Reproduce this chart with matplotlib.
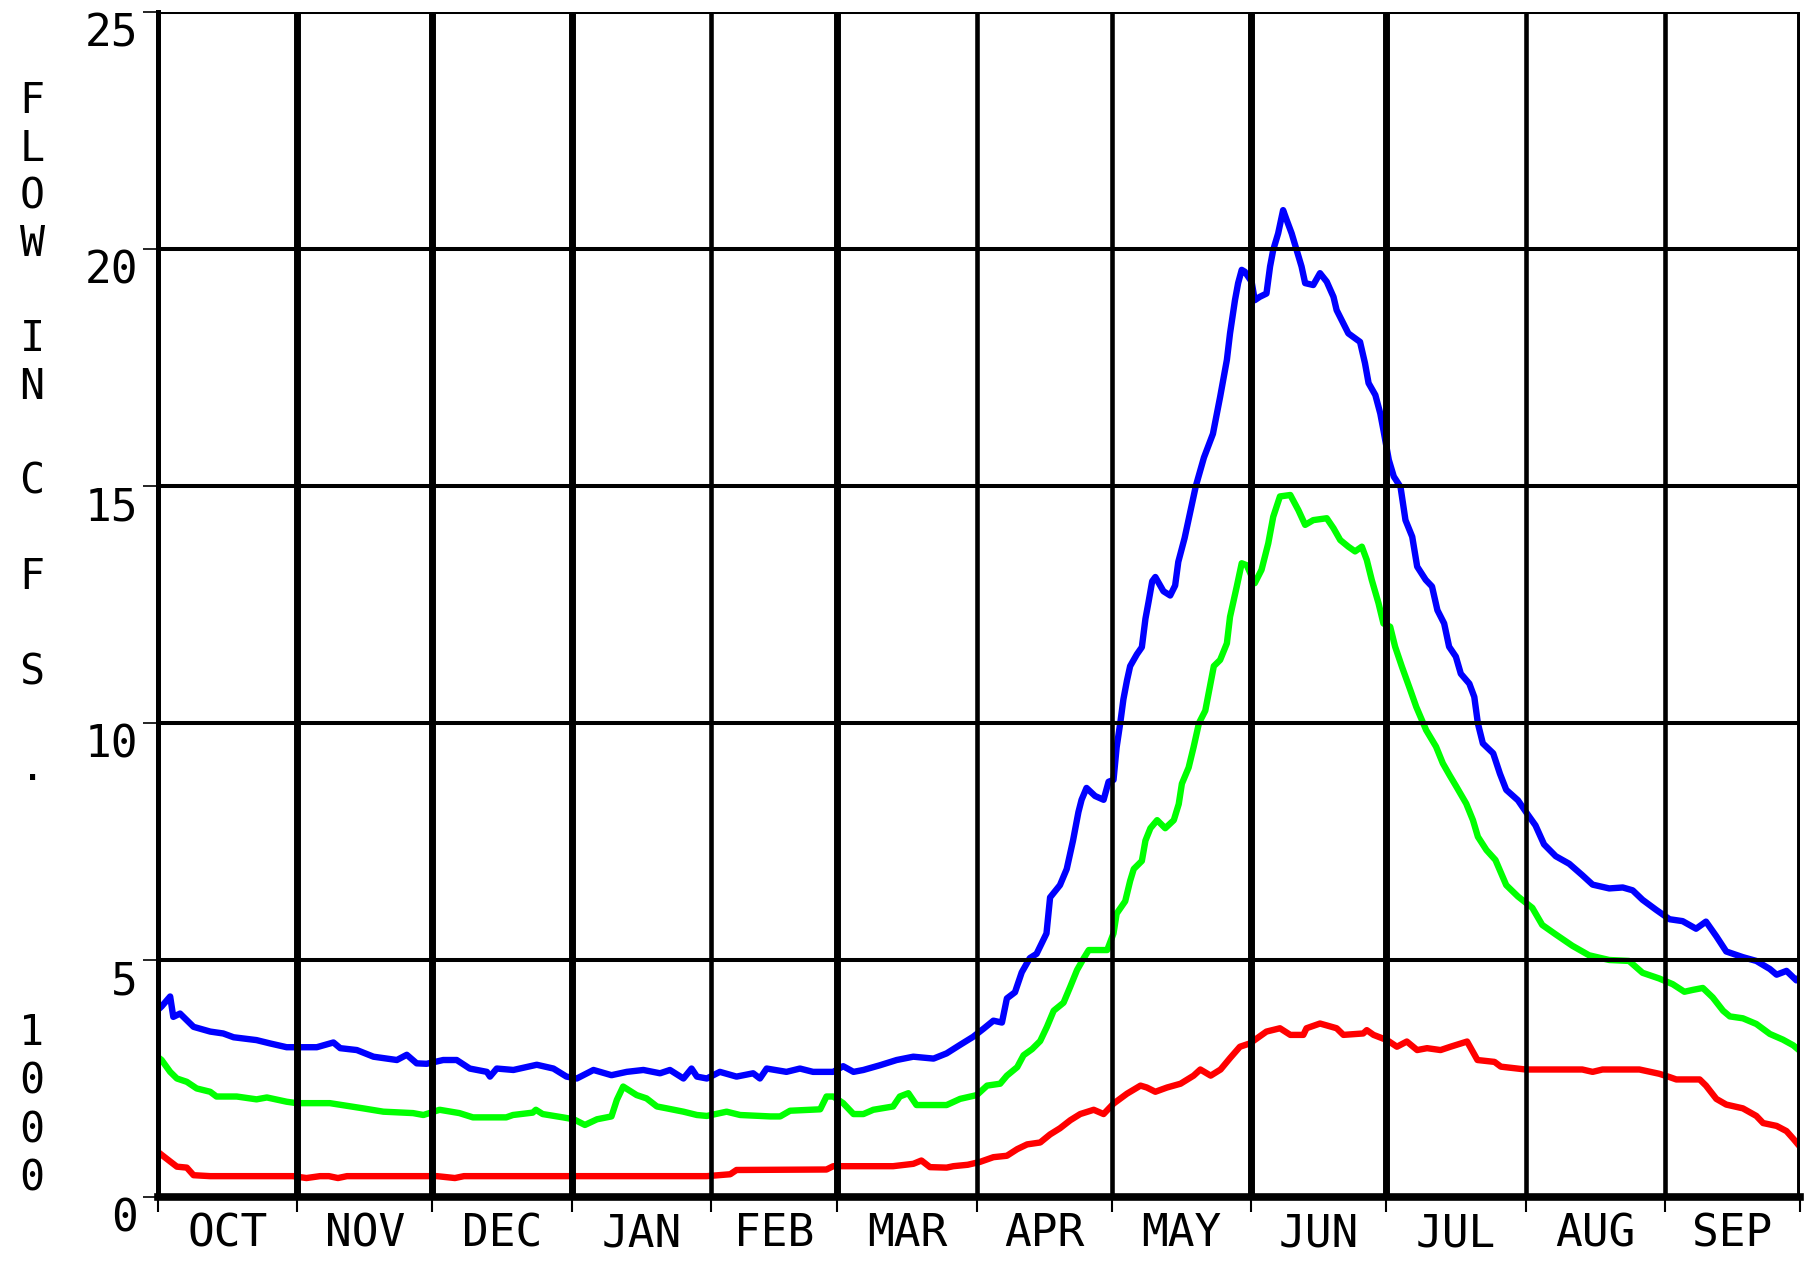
import matplotlib

matplotlib.use("Agg")

import matplotlib.pyplot as plt

# day of water year (Oct 1 = 0) and flow in 1000 cfs
MAX_DAYS = [
    0.0, 0.8, 2.7, 3.4, 4.9, 7.9, 11.6, 14.5, 16.8, 21.9, 24.9, 28.6, 35.3, 39.0,
    40.5, 44.2, 47.9, 53.1, 55.3, 57.5, 59.7, 63.4, 66.4, 69.3, 73.1, 73.8, 75.3,
    79.0, 84.2, 87.9, 90.8, 93.1, 96.8, 100.8, 104.2, 107.9, 111.6, 113.8, 116.8,
    118.6, 119.8, 122.0, 124.9, 128.6, 132.3, 133.8, 135.3, 139.7, 142.7, 145.6,
    150.1, 152.3, 154.6, 156.8, 160.5, 164.2, 167.9, 172.4, 175.3, 178.3, 181.2,
    183.5, 185.7, 187.6, 188.7, 190.5, 192.0, 193.8, 195.3, 197.5, 198.3, 200.5,
    202.0, 203.4, 204.6, 205.3, 206.4, 208.3, 210.2, 211.3, 212.4, 213.1, 213.9,
    214.6, 215.4, 216.1, 217.6, 218.7, 219.5, 220.2, 221.0, 221.7, 223.5, 225.0,
    226.1, 226.8, 228.2, 230.7, 232.5, 234.5, 236.1, 237.6, 238.3, 239.4, 240.1,
    240.9, 241.6, 243.1, 243.8, 244.9, 246.4, 247.2, 247.9, 249.0, 250.1, 250.9,
    252.0, 253.1, 254.2, 255.0, 256.8, 258.3, 259.8, 261.3, 262.0, 263.5, 264.6,
    267.2, 268.3, 269.1, 270.6, 271.7, 272.4, 273.6, 274.7, 276.2, 277.3, 278.8,
    279.9, 281.8, 283.2, 284.4, 285.9, 287.0, 288.5, 289.6, 291.5, 292.6, 293.4,
    294.5, 296.8, 298.3, 299.7, 302.3, 304.4, 306.2, 308.1, 310.7, 313.7, 316.6,
    318.9, 322.6, 325.6, 327.8, 330.0, 333.0, 336.0, 338.9, 341.9, 344.1, 346.4,
    348.6, 352.3, 355.3, 358.3, 359.8, 362.0, 364.2, 365.0,
]
MAX_FLOW = [
    3.95, 4.02, 4.23, 3.80, 3.87, 3.59, 3.49, 3.45, 3.37, 3.31, 3.24, 3.16, 3.16, 3.26,
    3.14, 3.10, 2.96, 2.89, 3.00, 2.82, 2.81, 2.89, 2.89, 2.71, 2.64, 2.54, 2.71,
    2.68, 2.79, 2.71, 2.54, 2.50, 2.68, 2.57, 2.64, 2.68, 2.61, 2.68, 2.50,
    2.71, 2.54, 2.50, 2.64, 2.54, 2.61, 2.50, 2.71, 2.64, 2.71, 2.64,
    2.64, 2.76, 2.64, 2.68, 2.78, 2.89, 2.96, 2.92, 3.03, 3.21, 3.38,
    3.55, 3.72, 3.68, 4.19, 4.32, 4.74, 5.04, 5.13, 5.56, 6.32, 6.58,
    6.92, 7.52, 8.12, 8.38, 8.63, 8.46, 8.38, 8.76, 8.80, 9.49, 10.0,
    10.5, 10.9, 11.2, 11.45, 11.6, 12.2, 12.56, 12.99, 13.08, 12.78, 12.69,
    12.9, 13.4, 13.9, 15.0, 15.6, 16.1, 16.88, 17.66, 18.22, 18.92, 19.28,
    19.56, 19.52, 19.31, 18.92, 18.99, 19.06, 19.63, 19.98, 20.33, 20.82, 20.61,
    20.33, 19.98, 19.63, 19.28, 19.24, 19.49, 19.31, 18.99, 18.71, 18.43, 18.22,
    18.04, 17.59, 17.17, 16.92, 16.53, 16.18, 15.55, 15.20, 14.98, 14.28, 13.93,
    13.30, 13.02, 12.88, 12.38, 12.10, 11.61, 11.40, 11.04, 10.83, 10.55, 9.99,
    9.57, 9.36, 8.93, 8.59, 8.37, 8.08, 7.84, 7.44, 7.19, 7.03, 6.79,
    6.59, 6.51, 6.53, 6.47, 6.27, 6.06, 5.86, 5.82, 5.66, 5.81, 5.50,
    5.18, 5.06, 4.98, 4.81, 4.69, 4.77, 4.57, 4.65,
]

MEAN_DAYS = [
    0.0, 0.8, 2.7, 4.2, 6.4, 8.6, 11.6, 13.0, 17.5, 21.9, 24.2, 28.6, 30.8, 38.2,
    45.6, 50.1, 56.7, 59.0, 62.6, 67.0, 70.0, 77.4, 78.9, 83.3, 84.0, 85.5, 90.0,
    92.4, 94.9, 97.6, 100.8, 102.0, 103.4, 106.4, 108.6, 110.9, 113.1, 116.8,
    119.8, 122.0, 126.4, 129.4, 136.1, 138.3, 140.5, 147.2, 148.6, 150.1, 152.3,
    154.6, 156.8, 159.0, 163.4, 164.9, 166.8, 168.6, 175.3, 178.3, 182.0, 184.3,
    187.2, 188.7, 191.0, 192.4, 194.3, 196.1, 197.6, 199.1, 201.3, 202.8, 204.3,
    205.8, 206.9, 211.0, 212.4, 213.1, 215.0, 216.1, 216.9, 218.7, 219.5, 220.6,
    222.1, 223.9, 225.8, 226.9, 227.6, 229.1, 230.2, 231.4, 232.8, 234.0, 234.7,
    236.1, 237.6, 238.3, 239.8, 240.9, 242.0, 243.8, 245.3, 246.8, 247.9, 249.4,
    251.7, 253.5, 255.0, 256.8, 259.8, 261.3, 262.8, 264.6, 266.1, 267.6, 268.7,
    269.8, 271.3, 272.4, 273.9, 275.0, 276.5, 278.4, 279.7, 281.9, 284.1, 285.6,
    287.1, 288.6, 290.8, 292.3, 293.4, 295.3, 297.3, 299.7, 302.3, 305.5, 307.7,
    310.7, 314.4, 318.1, 322.6, 327.0, 330.0, 333.7, 336.7, 339.3, 341.2, 343.4,
    345.6, 347.9, 349.4, 352.3, 355.3, 358.3, 361.2, 363.5, 365.0,
]
MEAN_FLOW = [
    2.95, 2.89, 2.64, 2.50, 2.43, 2.29, 2.22, 2.12, 2.12, 2.06, 2.10, 2.01, 1.98, 1.98,
    1.87, 1.80, 1.77, 1.73, 1.84, 1.77, 1.68, 1.68, 1.73, 1.78, 1.84, 1.75, 1.68,
    1.64, 1.52, 1.64, 1.70, 2.05, 2.33, 2.15, 2.08, 1.91, 1.87, 1.80,
    1.73, 1.71, 1.80, 1.73, 1.70, 1.70, 1.82, 1.85, 2.12, 2.12, 1.98,
    1.75, 1.75, 1.84, 1.91, 2.12, 2.19, 1.94, 1.94, 2.07, 2.15, 2.35,
    2.39, 2.56, 2.74, 2.99, 3.12, 3.29, 3.59, 3.93, 4.10, 4.44, 4.79,
    5.04, 5.21, 5.21, 5.56, 5.98, 6.24, 6.67, 6.92, 7.09, 7.52, 7.78,
    7.95, 7.78, 7.95, 8.29, 8.72, 9.06, 9.49, 10.0, 10.26, 10.85, 11.2,
    11.33, 11.68, 12.24, 12.88, 13.37, 13.33, 12.95, 13.23, 13.79, 14.35, 14.78,
    14.81, 14.49, 14.18, 14.28, 14.32, 14.11, 13.86, 13.72, 13.62, 13.72, 13.44,
    13.02, 12.53, 12.10, 12.03, 11.61, 11.19, 10.69, 10.34, 9.85, 9.50, 9.15,
    8.90, 8.66, 8.30, 7.95, 7.60, 7.32, 7.11, 6.58, 6.34, 6.10, 5.74,
    5.54, 5.30, 5.10, 5.00, 4.98, 4.73, 4.61, 4.49, 4.33, 4.37, 4.41,
    4.21, 3.93, 3.81, 3.77, 3.65, 3.44, 3.32, 3.20, 3.08,
]

MIN_DAYS = [
    0.0, 0.8, 2.7, 4.2, 6.4, 7.9, 11.6, 30.0, 33.0, 36.0, 38.0, 40.0, 42.0, 60.0,
    62.0, 66.0, 68.0, 90.8, 122.0, 127.2, 128.6, 148.6, 150.1, 163.4, 167.9, 169.7,
    171.6, 175.3, 176.8, 180.0, 182.7, 185.7, 188.7, 191.0, 193.2, 196.1, 198.3,
    200.5, 202.8, 205.0, 208.0, 210.2, 212.4, 215.4, 218.4, 219.8, 221.7, 224.3,
    227.3, 230.2, 231.7, 234.0, 236.2, 238.3, 240.5, 242.7, 246.4, 249.4, 251.7,
    254.6, 255.3, 258.3, 262.0, 263.5, 267.9, 268.7, 270.2, 273.2, 275.4, 277.6,
    279.9, 282.1, 285.1, 287.3, 291.0, 293.3, 297.1, 298.5, 304.0, 316.6, 318.9,
    321.1, 329.3, 333.7, 336.0, 337.5, 342.7, 344.1, 346.4, 348.6, 352.3, 355.3,
    356.8, 359.8, 362.0, 363.5, 365.0,
]
MIN_FLOW = [
    0.95, 0.89, 0.75, 0.64, 0.62, 0.46, 0.44, 0.44, 0.40, 0.44, 0.44, 0.40, 0.44, 0.44,
    0.44, 0.40, 0.44, 0.44, 0.44, 0.48, 0.57, 0.58, 0.65, 0.65, 0.70, 0.77,
    0.63, 0.62, 0.65, 0.68, 0.74, 0.84, 0.87, 1.01, 1.11, 1.15, 1.32,
    1.45, 1.62, 1.75, 1.84, 1.75, 1.97, 2.18, 2.35, 2.31, 2.22, 2.31,
    2.39, 2.56, 2.69, 2.56, 2.69, 2.93, 3.17, 3.24, 3.49, 3.56, 3.42,
    3.42, 3.56, 3.66, 3.56, 3.42, 3.45, 3.52, 3.42, 3.31, 3.17, 3.28,
    3.10, 3.14, 3.10, 3.17, 3.28, 2.89, 2.85, 2.75, 2.69, 2.69, 2.64,
    2.69, 2.69, 2.60, 2.53, 2.48, 2.48, 2.35, 2.07, 1.95, 1.87, 1.71,
    1.56, 1.50, 1.39, 1.23, 1.06,
]

MONTHS = ["OCT", "NOV", "DEC", "JAN", "FEB", "MAR", "APR", "MAY", "JUN", "JUL", "AUG", "SEP"]
MONTH_STARTS = [0, 31, 61, 92, 123, 151, 182, 212, 243, 273, 304, 335, 365]
Y_TICKS = [0, 5, 10, 15, 20, 25]
Y_LABEL_TOP = "F\nL\nO\nW\n\nI\nN\n\nC\n\nF\n\nS\n\n."
Y_LABEL_BOTTOM = "1\n0\n0\n0"

FONT = ["DejaVu Sans Mono"]
W, H = 1812, 1266


def main():
    fig = plt.figure(figsize=(W / 100, H / 100), dpi=100)
    ax = fig.add_axes([158 / W, 1 - 1197 / H, (1800 - 158) / W, (1197 - 12) / H])

    ax.plot(MAX_DAYS, MAX_FLOW, color="#0000ff", lw=4.6, zorder=2)
    ax.plot(MEAN_DAYS, MEAN_FLOW, color="#00ff00", lw=4.6, zorder=2)
    ax.plot(MIN_DAYS, MIN_FLOW, color="#ff0000", lw=4.6, zorder=2)

    ax.set_xlim(0, 365)
    ax.set_ylim(0, 25)

    for v in Y_TICKS[1:]:
        ax.axhline(v, color="black", lw=2.9, zorder=3)
    thick = {31, 61, 92, 151, 243, 273, 365}
    for d in MONTH_STARTS[1:]:
        ax.axvline(d, color="black", lw=5.0 if d in thick else 3.3, zorder=3)

    for side in ["top", "right"]:
        ax.spines[side].set_visible(False)
    ax.spines["left"].set_linewidth(3.6)
    ax.spines["bottom"].set_linewidth(5.5)
    ax.spines["left"].set_zorder(4)
    ax.spines["bottom"].set_zorder(4)

    ax.set_yticks(Y_TICKS)
    ax.set_yticklabels([str(v) for v in Y_TICKS], family=FONT, fontsize=32, va="top")
    ax.tick_params(axis="y", length=11, width=1.2, pad=3.5)

    ax.set_xticks(MONTH_STARTS)
    ax.set_xticklabels([])
    ax.tick_params(axis="x", which="major", length=11, width=1.5, direction="out")
    centers = [(a + b) / 2 for a, b in zip(MONTH_STARTS[:-1], MONTH_STARTS[1:])]
    ax.set_xticks(centers, minor=True)
    ax.set_xticklabels(MONTHS, minor=True, family=FONT, fontsize=32)
    ax.tick_params(axis="x", which="minor", length=0, pad=11)

    fig.text(32 / W, 1 - 80 / H, Y_LABEL_TOP, family=FONT, fontsize=30,
             ha="center", va="top", multialignment="center", linespacing=1.17)
    fig.text(32 / W, 1 - 1012 / H, Y_LABEL_BOTTOM, family=FONT, fontsize=30,
             ha="center", va="top", multialignment="center", linespacing=1.2)

    fig.savefig("out.png", dpi=100)
    plt.close(fig)


if __name__ == "__main__":
    main()
